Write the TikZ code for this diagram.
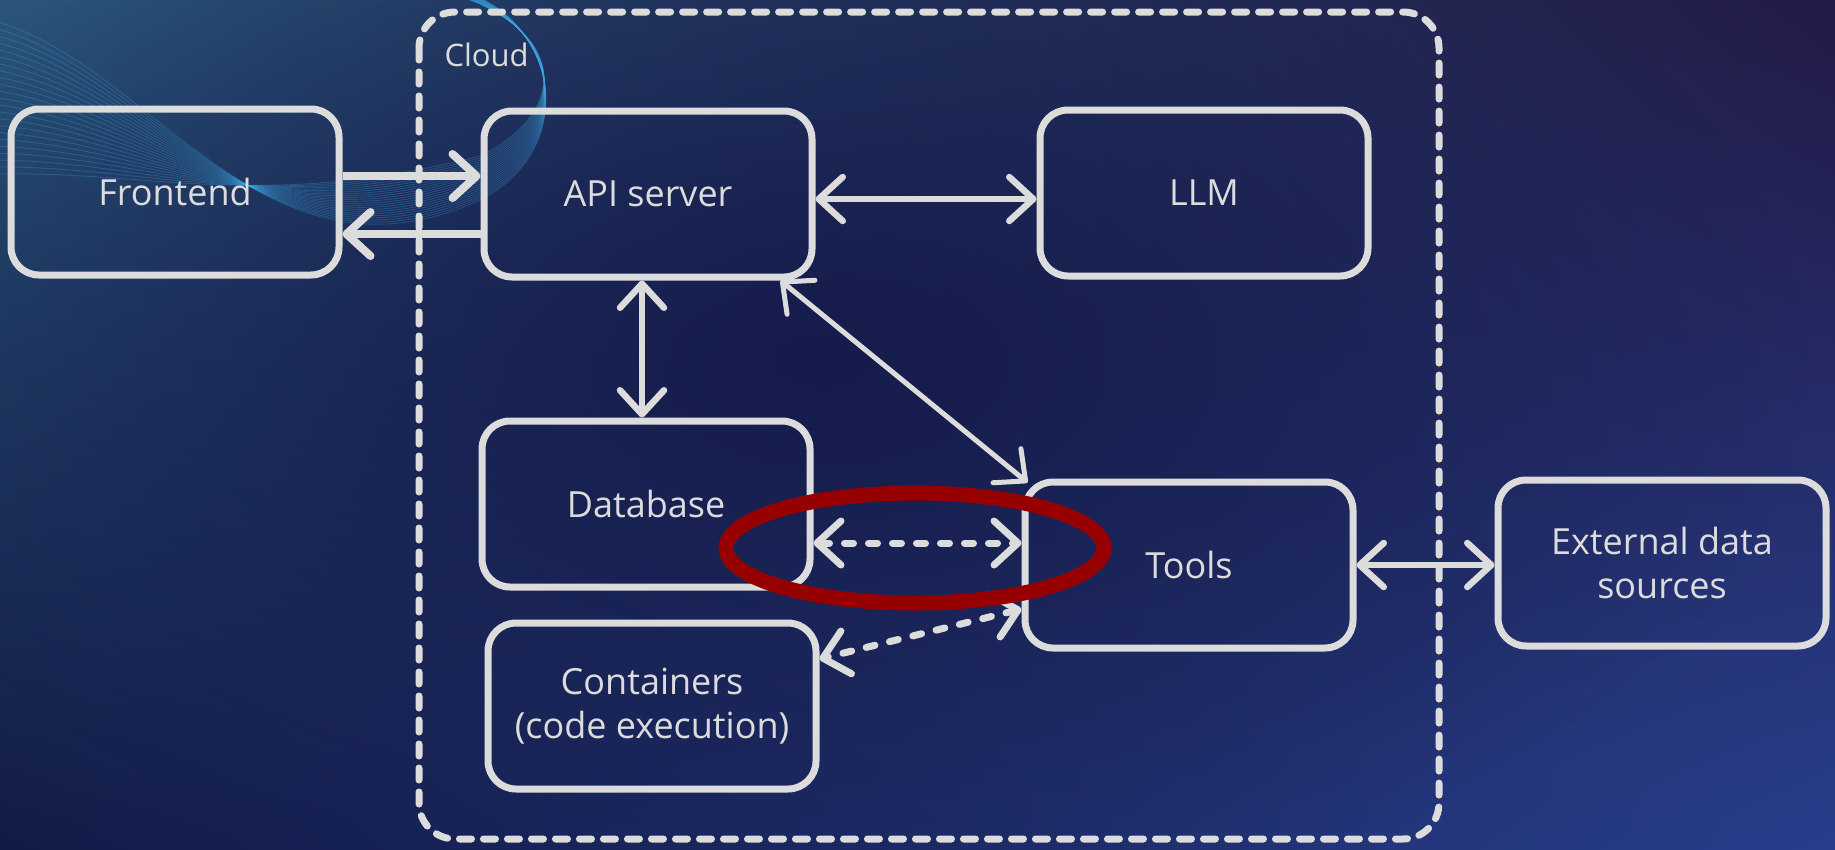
\documentclass[tikz,border=0pt]{standalone}
\usepackage{fontspec}
\setmainfont{Open Sans}
\usetikzlibrary{arrows.meta,positioning,calc,shadings,fadings}

\definecolor{chalk}{HTML}{DCDCDC}
\definecolor{bgtl}{RGB}{42,86,122}
\definecolor{bgtr}{RGB}{34,26,70}
\definecolor{bgbl}{RGB}{18,26,70}
\definecolor{bgbr}{RGB}{40,62,140}
\definecolor{bgmid}{RGB}{20,24,72}
\definecolor{wave}{RGB}{60,170,230}
\definecolor{ringred}{RGB}{150,0,0}

\tikzfading[name=softspot, inner color=transparent!0, outer color=transparent!100]

\tikzset{
  box/.style={draw=chalk, line width=7pt, rounded corners=28pt, text=chalk,
    minimum width=328pt, minimum height=166pt, align=center,
    font=\fontsize{36}{44}\selectfont},
  barb/.tip={Straight Barb[length=24pt, width=44pt, round]},
  link/.style={draw=chalk, line width=6.5pt, line cap=round, barb-barb},
  onelink/.style={draw=chalk, line width=8pt, -barb},
  dashlink/.style={link, line width=7pt, dash pattern=on 9pt off 15pt},
  cloudline/.style={draw=chalk, line width=7pt, line cap=round,
    dash pattern=on 12pt off 12pt, rounded corners=36pt},
  redring/.style={draw=ringred, line width=15pt}
}

\begin{document}
\begin{tikzpicture}[x=1pt, y=-1pt]
  % 1. background
  \useasboundingbox (0,0) rectangle (1835,849);
  \shade[upper left=bgtl, upper right=bgtr, lower left=bgbl, lower right=bgbr]
    (0,0) rectangle (1835,849);
  \fill[bgmid, path fading=softspot, opacity=0.9] (820,360) ellipse [x radius=1000pt, y radius=560pt];
  \foreach \i in {0,...,22}
    \draw[wave, opacity=0.28, line width=0.9pt]
      (-10,{20+\i*7}) .. controls (150,{60+\i*5}) and (260,{300-\i*4}) .. (480,{200-\i*2})
      .. controls (580,{150-\i*2}) and (560,20) .. ({460-\i},-10);

  % 2. cloud frame
  \draw[cloudline] (419,12) rectangle (1439,839);
  \node[anchor=west, text=chalk, font=\fontsize{31}{36}\selectfont] (cloudlbl) at (441,55) {Cloud};

  % 3. boxes
  \node[box] (fe) at (175,192) {Frontend};
  \node[box] (api) at (648,194) {API server};
  \node[box] (llm) at (1204,193) {LLM};
  \node[box] (db) at (646,504) {Database};
  \node[box] (tools) at (1189,565) {Tools};
  \node[box] (ext) at (1662,563) {External data\\sources};
  \node[box] (cont) at (652,706) {Containers\\(code execution)};

  % 4. connectors
  \draw[onelink] ([yshift=16pt]fe.east) -- ([yshift=16pt]fe.east -| api.west);
  \draw[onelink] ([yshift=-40pt]api.west) -- ([yshift=-40pt]api.west -| fe.east);
  \draw[link] ([yshift=-5pt]api.east) -- ([yshift=-5pt]api.east -| llm.west);
  \draw[link] ([xshift=-6pt]api.south) -- ([xshift=-6pt]api.south |- db.north);
  \draw[link, line width=5pt] ([xshift=-35pt]api.south east) -- ([xshift=6pt,yshift=-4pt]tools.north west);
  \draw[dashlink] ([yshift=-39pt]db.east) -- ([yshift=-39pt]db.east -| tools.west);
  \draw[dashlink] ([yshift=-44pt]tools.west) -- ([yshift=47pt]cont.east);
  \draw[link] (tools.east) -- (tools.east -| ext.west);

  % 5. highlight
  \draw[redring] (915,548) ellipse [x radius=189pt, y radius=55pt];
\end{tikzpicture}
\end{document}
